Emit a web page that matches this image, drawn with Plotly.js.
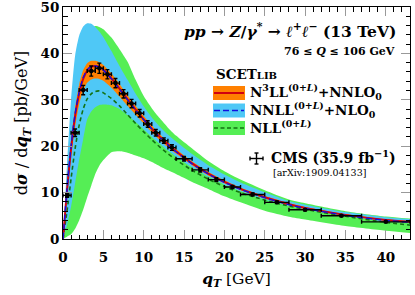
<!DOCTYPE html>
<html>
<head>
<meta charset="utf-8">
<script src="https://cdn.plot.ly/plotly-3.0.1.min.js"></script>
<style>html,body{margin:0;padding:0;background:#fff;}#chart{width:415px;height:295px;}</style>
</head>
<body>
<div id="chart"></div>
<script>
// ---- data ----
const qGrid = [0,0.5,1,1.5,2,2.5,3,3.5,4,4.5,5,6,7,8,9,10,11,12,13,14,16,18,20,22,25,28,30,35,40,43];

const n3llCentral = [0,10.5,19.5,26.5,31.3,34.5,36.3,37.1,37.3,37.1,36.5,34.6,32.4,30.1,27.9,25.8,23.8,22.0,20.4,18.9,16.3,14.1,12.3,10.8,9.0,7.5,6.7,5.2,4.1,3.7];
const n3llUpper   = [0,11.5,21,28.3,33.3,36.4,37.9,38.4,38.4,38.1,37.5,35.7,33.4,31.0,28.7,26.5,24.5,22.6,20.9,19.4,16.7,14.45,12.65,11.05,9.25,7.75,6.92,5.38,4.24,3.84];
const n3llLower   = [0,9.3,17.5,24.2,29.0,32.0,33.7,34.4,34.6,34.5,34.1,32.6,30.7,28.7,26.8,24.9,23.0,21.3,19.8,18.4,15.9,13.7,12.0,10.5,8.75,7.3,6.5,5.05,3.95,3.55];

const nnllCentral = [0,10.8,20,27,31.7,34.8,36.5,37.2,37.3,37.0,36.4,34.5,32.3,30.0,27.8,25.7,23.7,21.9,20.3,18.8,16.2,14.0,12.2,10.7,8.9,7.4,6.6,5.1,4.0,3.6];
const nnllUpper   = [0,16,30,39.5,43.8,45.8,46.5,46.4,45.7,44.7,43.5,40.5,37.3,34.3,31.3,28.6,26.2,24.2,22.5,21.0,18.3,15.9,13.9,12.2,10.1,8.2,7.4,5.8,4.7,4.3];
const nnllLower   = [0,3,7,12,17,21.5,25.8,27.5,28.4,28.9,29.0,28.8,28.0,26.7,25.2,23.6,22.0,20.5,19.1,17.8,15.4,13.4,11.7,10.3,8.5,7.1,6.4,4.9,3.8,3.4];

const nllCentral  = [0,6,13,19.5,24.5,28,30.2,31.3,31.8,31.9,31.5,30.3,28.7,26.8,24.9,23.1,21.4,19.8,18.4,17.1,14.8,12.9,11.3,10.0,8.4,7.1,6.4,4.9,3.6,3.0];
const nllUpper    = [0,11,22,31,37.5,41.5,44,45.4,45.9,45.7,45.2,43.4,40.9,38.2,34.3,30.8,28.2,26.0,24.0,22.3,19.5,16.8,14.6,12.8,10.5,8.5,7.7,6.0,4.85,4.4];
const nllLower    = [0,0.5,1,2.2,4,6.3,9,11.5,14,15.8,17,18.7,18.9,18.6,18.0,17.4,16.6,15.7,14.8,14.0,12.3,10.8,9.2,7.9,6.1,4.8,4.2,2.8,1.8,1.3];

const cmsEdges  = [0,1,2,3,4,5,6,7,8,9,10,11,12,13,14,16,18,20,22,25,28,32,37,43];
const cmsValues = [9.4,22.9,32.1,36.2,36.8,35.5,33.6,31.3,29.2,27.1,24.8,22.9,21.2,19.7,17.3,14.9,12.8,11.2,9.6,7.9,6.3,5.0,3.7];
const cmsErrors = [0.4,0.8,1.0,1.1,1.1,1.0,1.0,0.9,0.9,0.8,0.7,0.7,0.6,0.6,0.5,0.45,0.4,0.35,0.3,0.25,0.2,0.17,0.13];

// ---- styles ----
const cOrange = '#ff8000', cBlue = '#4fc8f6', cGreen = '#55ee55';
const cRed = '#d00010', cBlueLine = '#1010e0', cGreenLine = '#137313';
const serif = 'DejaVu Serif, serif';

const cmsX = cmsValues.map((v,i)=> (cmsEdges[i]+cmsEdges[i+1])/2);
const cmsXErr = cmsValues.map((v,i)=> (cmsEdges[i+1]-cmsEdges[i])/2);

function band(lower, upper, color){
  return [
    {x:qGrid, y:lower, type:'scatter', mode:'lines', line:{width:0, shape:'spline', smoothing:0.6}, hoverinfo:'skip', showlegend:false},
    {x:qGrid, y:upper, type:'scatter', mode:'lines', fill:'tonexty', fillcolor:color, line:{width:0, shape:'spline', smoothing:0.6}, hoverinfo:'skip', showlegend:false}
  ];
}

const traces = [
  ...band(nllLower, nllUpper, cGreen),
  ...band(nnllLower, nnllUpper, cBlue),
  ...band(n3llLower, n3llUpper, cOrange),
  {x:qGrid, y:nllCentral, type:'scatter', mode:'lines', line:{color:cGreenLine, width:1.6, dash:'4px,3px', shape:'spline', smoothing:0.6}, showlegend:false},
  {x:qGrid, y:n3llCentral, type:'scatter', mode:'lines', line:{color:cRed, width:2, shape:'spline', smoothing:0.6}, showlegend:false},
  {x:qGrid, y:nnllCentral, type:'scatter', mode:'lines', line:{color:cBlueLine, width:1.4, dash:'6px,3px', shape:'spline', smoothing:0.6}, showlegend:false},
  {x:cmsX, y:cmsValues, type:'scatter', mode:'markers', marker:{color:'#000', size:4.5},
   error_y:{type:'data', array:cmsErrors, visible:true, color:'#000', thickness:1.4, width:2},
   error_x:{type:'data', array:cmsXErr, visible:true, color:'#000', thickness:1.4, width:2},
   showlegend:false}
];

// legend geometry in paper coordinates
const L = 63, R = 410, T = 7, B = 239;
const px = x => (x - L)/(R - L);
const py = y => (B - y)/(B - T);

const sw = [ {y0:86, y1:100, fill:cOrange, line:cRed, dash:'solid', w:2},
             {y0:103.5, y1:117.5, fill:cBlue, line:cBlueLine, dash:'6px,3px', w:1.6},
             {y0:121, y1:135, fill:cGreen, line:cGreenLine, dash:'4px,2.5px', w:1.5} ];
const shapes = [];
sw.forEach(s=>{
  shapes.push({type:'rect', xref:'paper', yref:'paper', x0:px(213), x1:px(245), y0:py(s.y1), y1:py(s.y0), fillcolor:s.fill, line:{width:0}});
  shapes.push({type:'line', xref:'paper', yref:'paper', x0:px(214), x1:px(244), y0:py((s.y0+s.y1)/2), y1:py((s.y0+s.y1)/2), line:{color:s.line, width:s.w, dash:s.dash}});
});
// CMS legend cross
const cx = 256.5, cy = 158.5;
shapes.push({type:'line', xref:'paper', yref:'paper', x0:px(cx-6.5), x1:px(cx+6.5), y0:py(cy), y1:py(cy), line:{color:'#000', width:1.4}});
shapes.push({type:'line', xref:'paper', yref:'paper', x0:px(cx), x1:px(cx), y0:py(cy-5.5), y1:py(cy+5.5), line:{color:'#000', width:1.4}});
shapes.push({type:'line', xref:'paper', yref:'paper', x0:px(cx-6.5), x1:px(cx-6.5), y0:py(cy-2), y1:py(cy+2), line:{color:'#000', width:1.4}});
shapes.push({type:'line', xref:'paper', yref:'paper', x0:px(cx+6.5), x1:px(cx+6.5), y0:py(cy-2), y1:py(cy+2), line:{color:'#000', width:1.4}});
shapes.push({type:'line', xref:'paper', yref:'paper', x0:px(cx-2), x1:px(cx+2), y0:py(cy-5.5), y1:py(cy-5.5), line:{color:'#000', width:1.4}});
shapes.push({type:'line', xref:'paper', yref:'paper', x0:px(cx-2), x1:px(cx+2), y0:py(cy+5.5), y1:py(cy+5.5), line:{color:'#000', width:1.4}});

const bfont = (s)=>({family:serif, size:s, color:'#000', weight:'bold'});
const annotations = [
  {xref:'paper', yref:'paper', x:px(398), y:py(31), xanchor:'right', yanchor:'middle', showarrow:false,
   text:'<i>pp</i> → <i>Z</i>/<i>γ</i><sup>*</sup> → <i>ℓ</i><sup>+</sup><i>ℓ</i><sup>−</sup> (13 TeV)', font:bfont(15.5)},
  {xref:'paper', yref:'paper', x:px(397), y:py(51.5), xanchor:'right', yanchor:'middle', showarrow:false,
   text:'76 ≤ <i>Q</i> ≤ 106 GeV', font:bfont(11)},
  {xref:'paper', yref:'paper', x:px(214), y:py(74), xanchor:'left', yanchor:'middle', showarrow:false,
   text:'SCET<span style="font-size:10px">LIB</span>', font:bfont(13.5)},
  {xref:'paper', yref:'paper', x:px(248), y:py(92), xanchor:'left', yanchor:'middle', showarrow:false,
   text:'N<sup>3</sup>LL<sup>(0+<i>L</i>)</sup>+NNLO<sub>0</sub>', font:bfont(13.5)},
  {xref:'paper', yref:'paper', x:px(248), y:py(110), xanchor:'left', yanchor:'middle', showarrow:false,
   text:'NNLL<sup>(0+<i>L</i>)</sup>+NLO<sub>0</sub>', font:bfont(13.5)},
  {xref:'paper', yref:'paper', x:px(248), y:py(127), xanchor:'left', yanchor:'middle', showarrow:false,
   text:'NLL<sup>(0+<i>L</i>)</sup>', font:bfont(13.5)},
  {xref:'paper', yref:'paper', x:px(269), y:py(157), xanchor:'left', yanchor:'middle', showarrow:false,
   text:'CMS (35.9 fb<sup>−1</sup>)', font:bfont(14)},
  {xref:'paper', yref:'paper', x:px(271), y:py(172), xanchor:'left', yanchor:'middle', showarrow:false,
   text:'[arXiv:1909.04133]', font:{family:serif, size:9.5, color:'#000'}}
];

const axisCommon = {
  showline:true, linecolor:'#000', linewidth:1, mirror:'ticks',
  ticks:'inside', ticklen:9, tickcolor:'#999', tickwidth:1,
  showgrid:false, zeroline:false, ticklabeloverflow:'allow',
  tickfont:bfont(13.5)
};

const layout = {
  width:415, height:295,
  margin:{l:L, r:415-R, t:T, b:295-B},
  paper_bgcolor:'#fff', plot_bgcolor:'#fff',
  showlegend:false,
  xaxis:Object.assign({}, axisCommon, {range:[0,43], dtick:5, tick0:0, ticklabelstandoff:6,
    minor:{dtick:1, ticks:'inside', ticklen:4.5, tickcolor:'#000', showgrid:false},
    title:{text:'<b><i>q</i></b><sub><b><i>T</i></b></sub> [GeV]', font:{family:serif, size:15.5, color:'#000'}, standoff:8}}),
  yaxis:Object.assign({}, axisCommon, {range:[0,50], dtick:10, tick0:0,
    minor:{dtick:2, ticks:'inside', ticklen:4.5, tickcolor:'#000', showgrid:false},
    title:{text:'d<b><i>σ</i></b> / d<b><i>q</i></b><sub><b><i>T</i></b></sub> [pb/GeV]', font:{family:serif, size:16, color:'#000'}, standoff:8}}),
  shapes:shapes,
  annotations:annotations
};

Plotly.newPlot('chart', traces, layout, {displayModeBar:false, staticPlot:true});
</script>
</body>
</html>
